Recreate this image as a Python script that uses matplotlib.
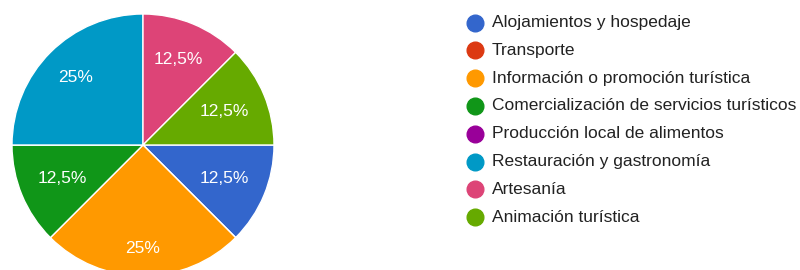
import matplotlib

matplotlib.use('Agg')
import matplotlib.pyplot as plt
import numpy as np
from matplotlib.lines import Line2D

categories = [
    "Alojamientos y hospedaje",
    "Transporte",
    "Información o promoción turística",
    "Comercialización de servicios turísticos",
    "Producción local de alimentos",
    "Restauración y gastronomía",
    "Artesanía",
    "Animación turística",
]
counts = [1, 0, 2, 1, 0, 2, 1, 1]
colors = ["#3366cc", "#dc3912", "#ff9900", "#109618",
          "#990099", "#0099c6", "#dd4477", "#66aa00"]

plt.rcParams["font.family"] = ["Liberation Sans", "DejaVu Sans"]

fig = plt.figure(figsize=(8, 2.7), dpi=100)

# pie centred at (143, 145) px, radius ~131 px
W, H = 800, 270
cx, cy, r = 143, 145, 131
ax = fig.add_axes([(cx - r) / W, (H - cy - r) / H, 2 * r / W, 2 * r / H])


def fmt_pct(p):
    if p < 0.01:
        return ""
    s = f"{p:.1f}".rstrip("0").rstrip(".")
    return s.replace(".", ",") + "%"


wedges, texts, autotexts = ax.pie(
    counts,
    colors=colors,
    startangle=0,
    counterclock=False,
    autopct=fmt_pct,
    pctdistance=0.7,
    radius=1.0,
    wedgeprops=dict(edgecolor="white", linewidth=1),
    textprops=dict(color="white", fontsize=12.5),
)

# label distance from centre per slice (the chart sets them a bit unevenly)
label_dist = [0.67, 0.7, 0.79, 0.67, 0.7, 0.73, 0.71, 0.67]
for w, t, d in zip(wedges, autotexts, label_dist):
    ang = np.deg2rad((w.theta1 + w.theta2) / 2)
    t.set_position((d * np.cos(ang), d * np.sin(ang)))

ax.set_xlim(-1, 1)
ax.set_ylim(-1, 1)
ax.set_aspect("equal")
ax.axis("off")

# legend as a column of dots + labels
top = H - 22.5
step = 27.8
for i, (lab, col) in enumerate(zip(categories, colors)):
    y = (top - i * step) / H
    fig.add_artist(Line2D([475 / W], [y], marker="o", markersize=12,
                          color=col, linestyle="none", transform=fig.transFigure))
    fig.text(492 / W, y, lab, fontsize=12.5, color="#222222",
             va="center", ha="left")

fig.savefig("out.png", dpi=100)
plt.close(fig)
